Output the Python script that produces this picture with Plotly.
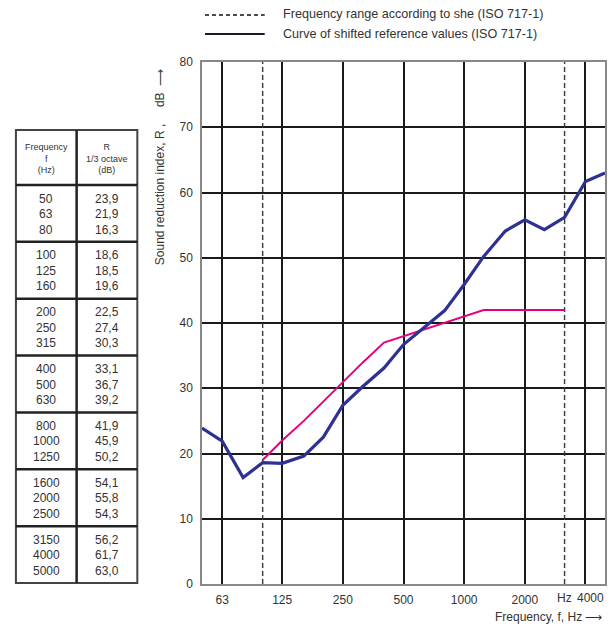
import math
import plotly.graph_objects as go

# ---- data ----
freq = [50, 63, 80, 100, 125, 160, 200, 250, 315, 400, 500, 630,
        800, 1000, 1250, 1600, 2000, 2500, 3150, 4000, 5000]
R_meas = [23.9, 21.9, 16.3, 18.6, 18.5, 19.6, 22.5, 27.4, 30.3, 33.1, 36.7, 39.2,
          41.9, 45.9, 50.2, 54.1, 55.8, 54.3, 56.2, 61.7, 63.0]
ref_freq = [100, 125, 160, 200, 250, 315, 400, 500, 630, 800, 1000, 1250,
            1600, 2000, 2500, 3150]
ref_shifted = [19, 22, 25, 28, 31, 34, 37, 38, 39, 40, 41, 42, 42, 42, 42, 42]
range_limits = [100, 3150]
x_tickvals = [63, 125, 250, 500, 1000, 2000, 4000]
x_ticktext = ["63", "125", "250", "500", "1000", "2000", ""]
legend_labels = ["Frequency range according to she (ISO 717-1)",
                 "Curve of shifted reference values (ISO 717-1)"]

# ---- layout geometry (pixels) ----
W, H = 612, 626
L, Rr, T, B = 202, 607, 62, 584
FONT = "Liberation Sans, Arial, sans-serif"
TXT = "#333333"


def px(x):
    return (x - L) / (Rr - L)


def py(y):
    return (B - y) / (B - T)


fig = go.Figure()

# dashed frequency range lines
for f in range_limits:
    fig.add_trace(go.Scatter(x=[f, f], y=[0, 80], mode="lines",
                             line=dict(color="#3a3a3a", width=1.4, dash="5px,3px"),
                             hoverinfo="skip", showlegend=False))

# shifted reference curve
fig.add_trace(go.Scatter(x=ref_freq, y=ref_shifted, mode="lines",
                         line=dict(color="#e6007e", width=2),
                         hoverinfo="skip", showlegend=False))
# measured curve
fig.add_trace(go.Scatter(x=freq, y=R_meas, mode="lines",
                         line=dict(color="#2e3192", width=3.2),
                         hoverinfo="skip", showlegend=False))

shapes = []
annotations = []

# ---- legend at top ----
shapes.append(dict(type="line", xref="paper", yref="paper",
                   x0=px(205), x1=px(265), y0=py(15), y1=py(15),
                   line=dict(color="#111111", width=1.5, dash="4px,3px")))
shapes.append(dict(type="line", xref="paper", yref="paper",
                   x0=px(205), x1=px(265), y0=py(34), y1=py(34),
                   line=dict(color="#1a1a2e", width=2)))
for i, lab in enumerate(legend_labels):
    annotations.append(dict(xref="paper", yref="paper", x=px(281), y=py(14 + 19.5 * i),
                            text=lab, showarrow=False, xanchor="left", yanchor="middle",
                            font=dict(family=FONT, size=12.6, color=TXT)))

# ---- table on the left ----
tL, tM, tR = 15, 76, 137
tTop, tHead = 130, 185
grp_h = (583 - tHead) / 7.0
tBot = tHead + 7 * grp_h
lc = "#222222"
shapes.append(dict(type="rect", xref="paper", yref="paper",
                   x0=px(tL), x1=px(tR), y0=py(tTop), y1=py(tBot),
                   line=dict(color="#444444", width=2)))
shapes.append(dict(type="line", xref="paper", yref="paper",
                   x0=px(tM), x1=px(tM), y0=py(tTop), y1=py(tBot),
                   line=dict(color=lc, width=2.5)))
for g in range(7):
    yy = tHead + g * grp_h
    shapes.append(dict(type="line", xref="paper", yref="paper",
                       x0=px(tL), x1=px(tR), y0=py(yy), y1=py(yy),
                       line=dict(color=lc, width=2.5)))

annotations.append(dict(xref="paper", yref="paper", x=px((tL + tM) / 2), y=py(158),
                        text="Frequency<br>f<br>(Hz)", showarrow=False,
                        xanchor="center", yanchor="middle", align="center",
                        font=dict(family=FONT, size=9, color=TXT)))
annotations.append(dict(xref="paper", yref="paper", x=px((tM + tR) / 2), y=py(158),
                        text="R<br>1/3 octave<br>(dB)", showarrow=False,
                        xanchor="center", yanchor="middle", align="center",
                        font=dict(family=FONT, size=9, color=TXT)))
for i, (f, r) in enumerate(zip(freq, R_meas)):
    g, k = divmod(i, 3)
    yy = tHead + g * grp_h + 13.5 + k * 15.5
    annotations.append(dict(xref="paper", yref="paper", x=px((tL + tM) / 2), y=py(yy),
                            text=str(f), showarrow=False, xanchor="center", yanchor="middle",
                            font=dict(family=FONT, size=12, color=TXT)))
    annotations.append(dict(xref="paper", yref="paper", x=px((tM + tR) / 2), y=py(yy),
                            text=f"{r:.1f}".replace(".", ","), showarrow=False,
                            xanchor="center", yanchor="middle",
                            font=dict(family=FONT, size=12, color=TXT)))

# "Hz" label at upper range limit and the 4000 label beside it
annotations.append(dict(xref="x", yref="paper", x=math.log10(range_limits[1]), y=py(598),
                        text="Hz", showarrow=False, xanchor="center", yanchor="middle",
                        font=dict(family=FONT, size=12, color=TXT)))
annotations.append(dict(xref="paper", yref="paper", x=px(592), y=py(598),
                        text="4000", showarrow=False, xanchor="center", yanchor="middle",
                        font=dict(family=FONT, size=12, color=TXT)))

# axis titles
annotations.append(dict(xref="paper", yref="paper", x=px(160), y=py(167),
                        text="Sound reduction index, R ,\u00a0\u00a0\u00a0\u00a0 dB \u00a0\u27f6",
                        textangle=-90, showarrow=False, xanchor="center", yanchor="middle",
                        font=dict(family=FONT, size=12, color=TXT)))
annotations.append(dict(xref="paper", yref="paper", x=px(606), y=py(617),
                        text="Frequency, f, Hz \u27f6", showarrow=False,
                        xanchor="right", yanchor="middle",
                        font=dict(family=FONT, size=12, color=TXT)))

fig.update_layout(
    width=W, height=H,
    margin=dict(l=L, r=W - Rr, t=T, b=H - B, pad=0),
    paper_bgcolor="white", plot_bgcolor="white",
    showlegend=False,
    shapes=shapes, annotations=annotations,
    font=dict(family=FONT, size=12, color=TXT),
    xaxis=dict(type="log", range=[math.log10(50), math.log10(5000)],
               tickvals=x_tickvals, ticktext=x_ticktext,
               showgrid=True, gridcolor="#1a1a1a", gridwidth=2.2,
               showline=True, linecolor="#888888", linewidth=1.5, mirror=True,
               ticks="outside", ticklen=4, tickcolor="rgba(0,0,0,0)",
               zeroline=False, tickfont=dict(size=12, color=TXT)),
    yaxis=dict(range=[0, 80], dtick=10, tick0=0,
               showgrid=True, gridcolor="#1a1a1a", gridwidth=2.2,
               showline=True, linecolor="#888888", linewidth=1.5, mirror=True,
               ticks="outside", ticklen=5, tickcolor="rgba(0,0,0,0)",
               zeroline=False, tickfont=dict(size=12, color=TXT)),
)

fig.write_html("out.html", config={"displayModeBar": False},
               post_script="document.body.style.margin='0px';")
